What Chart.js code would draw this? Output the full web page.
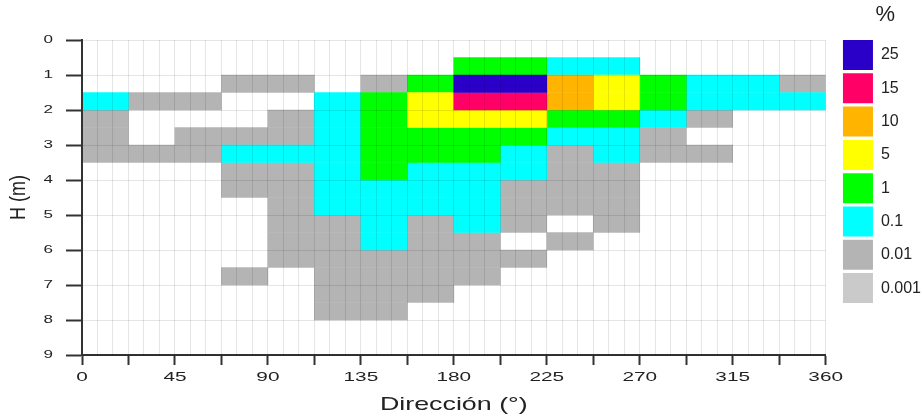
<!DOCTYPE html>
<html><head><meta charset="utf-8">
<script src="https://cdn.jsdelivr.net/npm/chart.js@4.4.1/dist/chart.umd.min.js"></script>
<style>html,body{margin:0;padding:0;background:#fff}</style>
</head><body>
<canvas id="c" width="922" height="420"></canvas>
<script>
const _ = null;
// Direction bins (start of each 22.5° sector)
const directionStarts = [0,22.5,45,67.5,90,112.5,135,157.5,180,202.5,225,247.5,270,292.5,315,337.5];
const directionBin = 22.5;
// Height bins (start of each 0.5 m class)
const heightStarts = [0,0.5,1,1.5,2,2.5,3,3.5,4,4.5,5,5.5,6,6.5,7,7.5,8,8.5];
const heightBin = 0.5;
const xTickLabels = [0,45,90,135,180,225,270,315,360];
const yTickLabels = [0,1,2,3,4,5,6,7,8,9];
// Frequency classes (%)
const classValues = [25,15,10,5,1,0.1,0.01,0.001];
const classLabels = ['25','15','10','5','1','0.1','0.01','0.001'];
const classColors = ['#2a00c8','#ff0066','#ffb400','#ffff00','#00ff00','#00ffff','#b4b4b4','#cacaca'];
// Frequency class of each cell: rows = height bins, columns = direction bins
const frequency = [
  [_,_,_,_,_,_,_,_,_,_,_,_,_,_,_,_],
  [_,_,_,_,_,_,_,_,1,1,0.1,0.1,_,_,_,_],
  [_,_,_,0.01,0.01,_,0.01,1,25,25,10,5,1,0.1,0.1,0.01],
  [0.1,0.01,0.01,_,_,0.1,1,5,15,15,10,5,1,0.1,0.1,0.1],
  [0.01,_,_,_,0.01,0.1,1,5,5,5,1,1,0.1,0.01,_,_],
  [0.01,_,0.01,0.01,0.01,0.1,1,1,1,1,0.1,0.1,0.01,_,_,_],
  [0.01,0.01,0.01,0.1,0.1,0.1,1,1,1,0.1,0.01,0.1,0.01,0.01,_,_],
  [_,_,_,0.01,0.01,0.1,1,0.1,0.1,0.1,0.01,0.01,_,_,_,_],
  [_,_,_,0.01,0.01,0.1,0.1,0.1,0.1,0.01,0.01,0.01,_,_,_,_],
  [_,_,_,_,0.01,0.1,0.1,0.1,0.1,0.01,0.01,0.01,_,_,_,_],
  [_,_,_,_,0.01,0.01,0.1,0.01,0.1,0.01,_,0.01,_,_,_,_],
  [_,_,_,_,0.01,0.01,0.1,0.01,0.01,_,0.01,_,_,_,_,_],
  [_,_,_,_,0.01,0.01,0.01,0.01,0.01,0.01,_,_,_,_,_,_],
  [_,_,_,0.01,_,0.01,0.01,0.01,0.01,_,_,_,_,_,_,_],
  [_,_,_,_,_,0.01,0.01,0.01,_,_,_,_,_,_,_,_],
  [_,_,_,_,_,0.01,0.01,_,_,_,_,_,_,_,_,_],
  [_,_,_,_,_,_,_,_,_,_,_,_,_,_,_,_],
  [_,_,_,_,_,_,_,_,_,_,_,_,_,_,_,_]
];

const datasets = classValues.map((cv, k) => {
  const data = [];
  frequency.forEach((row, r) => row.forEach((val, c) => {
    if (val === cv) data.push({x: directionStarts[c] + directionBin / 2, y: [heightStarts[r], heightStarts[r] + heightBin]});
  }));
  return {label: classLabels[k], data, backgroundColor: classColors[k], borderWidth: 0, borderSkipped: false,
          grouped: false, barPercentage: 1, categoryPercentage: 1, xAxisID: 'x', yAxisID: 'y'};
});

Chart.defaults.font.family = '"Liberation Sans", Arial, sans-serif';
Chart.defaults.color = '#222';

// The reference's axis lettering is horizontally widened; emulate it per font size.
const canvas = document.getElementById('c');
const ctx2d = canvas.getContext('2d');
const stretchBySize = {'13': 1.6, '10': 1.7, '18.5': 1.45, '18': 1.22};
const nativeFillText = ctx2d.fillText;
ctx2d.fillText = function(text, x, y) {
  const m = /(\d+(?:\.\d+)?)px/.exec(this.font);
  const sx = m ? (stretchBySize[m[1]] || 1) : 1;
  if (sx === 1) return nativeFillText.call(this, text, x, y);
  const t = this.getTransform();
  this.save();
  this.translate(x, y);
  if (Math.abs(t.b) > 0.5) this.scale(1, sx); else this.scale(sx, 1);
  nativeFillText.call(this, text, 0, 0);
  this.restore();
};

const legendShift = {id: 'legendShift', afterLayout(chart) {
  const lg = chart.legend; const dx = 14; lg.left += dx; lg.right += dx;
}};

new Chart(canvas, {
  type: 'bar',
  data: {datasets},
  plugins: [legendShift],
  options: {
    responsive: false, animation: false, devicePixelRatio: 1,
    layout: {padding: {left: 0, right: 5, top: 0, bottom: 0}},
    plugins: {
      title: {display: true, text: ' ', fullSize: false, padding: 0, font: {size: 40, lineHeight: 1}},
      tooltip: {enabled: false},
      legend: {
        position: 'right', align: 'start',
        title: {display: true, text: '%', color: '#222', font: {size: 22}, padding: {top: 4.3, bottom: 6}},
        labels: {boxWidth: 30, boxHeight: 30, padding: 3.3, color: '#222', font: {size: 16}}
      }
    },
    scales: {
      x: {
        type: 'linear', position: 'bottom', min: 0, max: 360, offset: false,
        grid: {offset: false, drawOnChartArea: false, drawTicks: true, tickLength: 10, tickWidth: 2, tickColor: '#333'},
        border: {display: true, color: '#333', width: 2},
        ticks: {stepSize: 22.5, autoSkip: false, maxRotation: 0, padding: 5, color: '#222', font: {size: 13},
                callback: v => xTickLabels.includes(v) ? String(v) : ''},
        title: {display: true, text: 'Dirección (°)', color: '#222', font: {size: 18.5}, padding: {top: 0, bottom: 4}},
        afterFit: s => { s.height = 65; }
      },
      x2: {
        type: 'linear', position: 'top', min: 0, max: 360, offset: false,
        grid: {offset: false, z: 1, color: 'rgba(0,0,0,0.1)', drawTicks: false},
        border: {display: false},
        ticks: {display: false, stepSize: 7.5, autoSkip: false}
      },
      y: {
        type: 'linear', min: 0, max: 9, reverse: true,
        grid: {z: 1, color: 'rgba(0,0,0,0.1)', tickColor: '#333', tickLength: 16, tickWidth: 2},
        border: {display: true, color: '#333', width: 2, z: 2},
        ticks: {stepSize: 1, padding: 13, color: '#222', font: {size: 10},
                callback: v => yTickLabels.includes(v) ? String(v) : ''},
        title: {display: true, text: 'H (m)', color: '#222', font: {size: 18}, padding: {top: 8, bottom: 0}},
        afterFit: s => { s.width = 82; }
      }
    }
  }
});
</script>
</body></html>
